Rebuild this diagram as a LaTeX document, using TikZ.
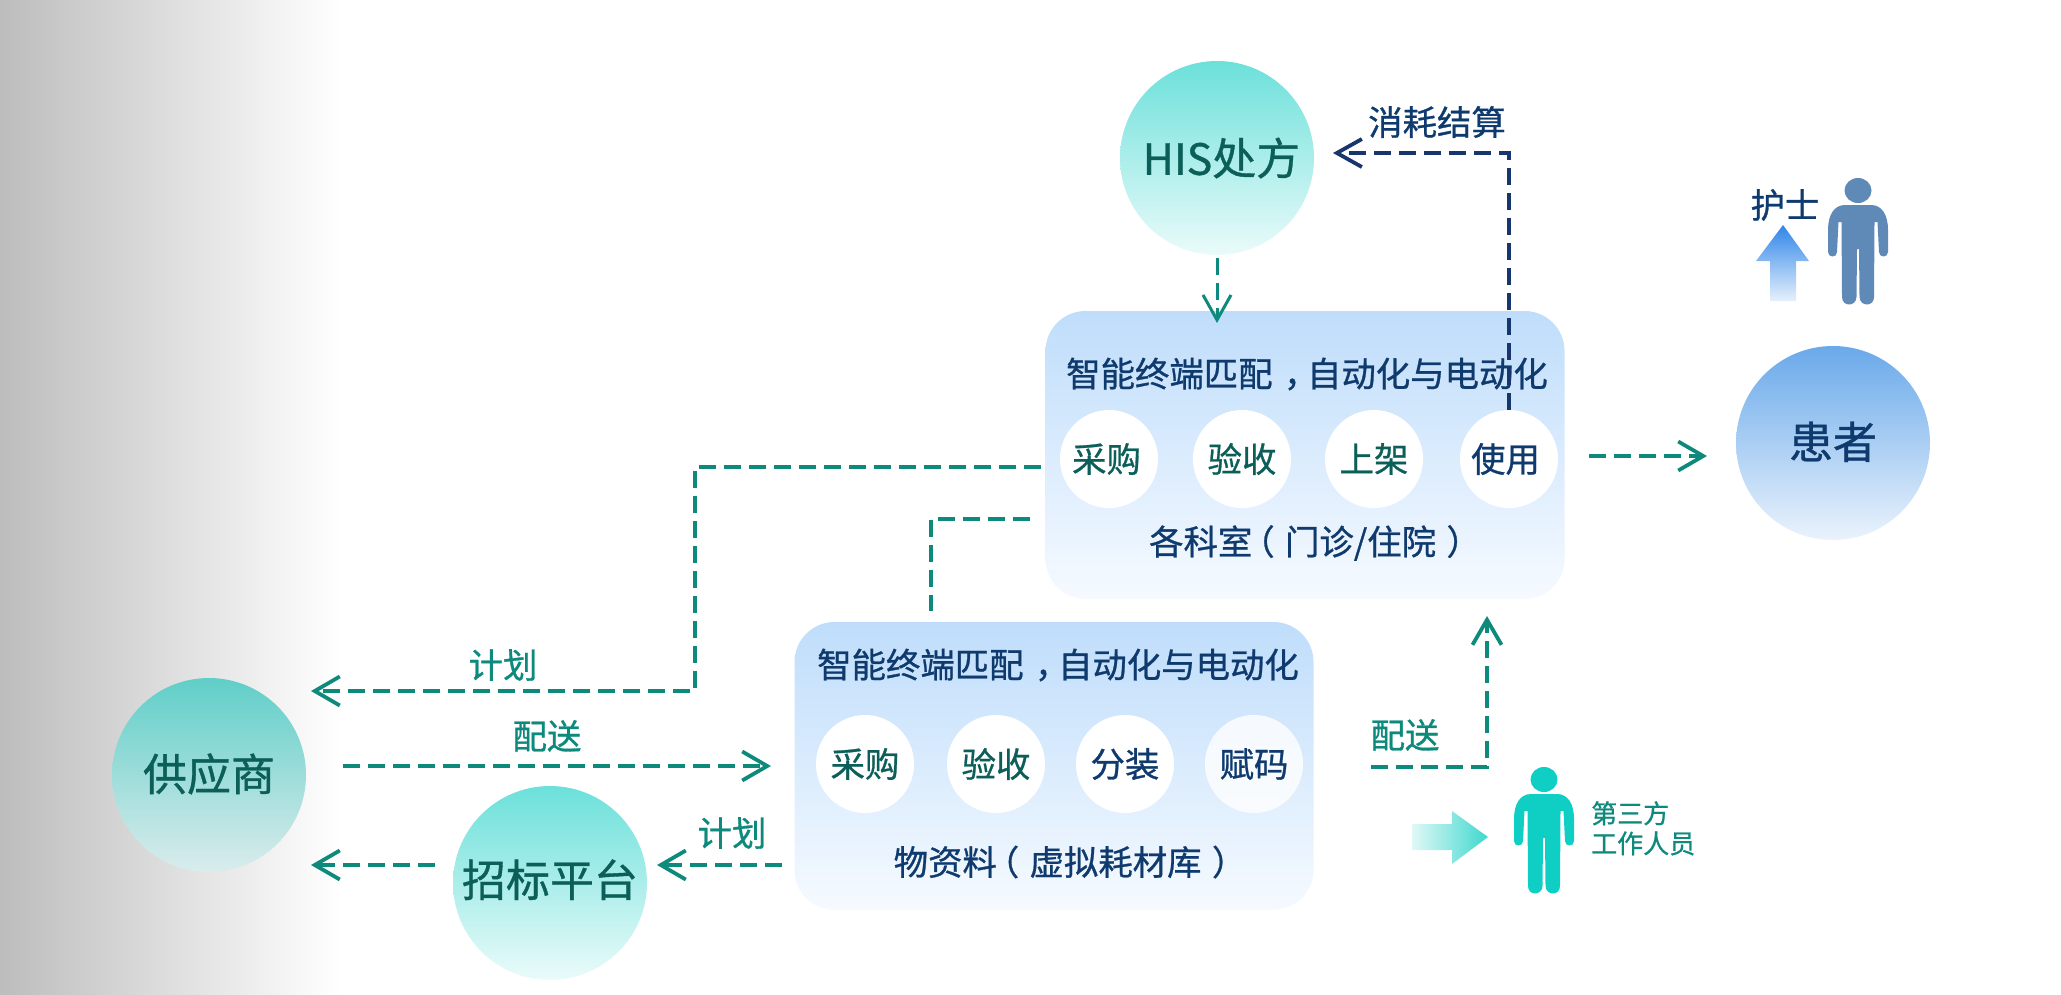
\documentclass[tikz,border=0pt]{standalone}
\usepackage{fontspec}
\setmainfont[FakeBold=0.8]{Noto Sans CJK SC}
\usetikzlibrary{arrows.meta,shapes.geometric}
\definecolor{tealline}{HTML}{0E8A7D}
\definecolor{navyline}{HTML}{17366E}
\definecolor{tealtext}{HTML}{0B5F58}
\definecolor{navytext}{HTML}{0F3A6E}
\definecolor{tealtop}{HTML}{6CE0DA}
\definecolor{tealbot}{HTML}{EAFBFA}
\definecolor{paneltop}{HTML}{BFDDFB}
\definecolor{panelbot}{HTML}{F6FAFF}
\newcommand{\fsBig}{\fontsize{44}{50}\selectfont}
\newcommand{\fsMid}{\fontsize{34.4}{40}\selectfont}
\newcommand{\fsSmall}{\fontsize{26}{30}\selectfont}
\newcommand{\ccomma}{\kern.33em，\kern-.33em}
\newcommand{\copen}{\kern-.35em（\kern.3em}
\newcommand{\cclose}{\kern.3em）}
\tikzset{
  x=1pt,y=-1pt,
  flow/.style={line width=4pt,dash pattern=on 17pt off 8pt,color=tealline,-{Straight Barb[length=25pt,width=29pt,line width=3.8pt]}},
  flowplain/.style={line width=4pt,dash pattern=on 17pt off 8pt,color=tealline},
  flowthin/.style={line width=3pt,dash pattern=on 17pt off 8pt,color=tealline,-{Straight Barb[length=25pt,width=28pt,line width=3pt]}},
  flownavy/.style={line width=3.6pt,dash pattern=on 17pt off 8pt,color=navyline,-{Straight Barb[length=25pt,width=28pt,line width=3.8pt]}},
  ball/.style={circle,minimum size=194pt,inner sep=0pt,draw=none,font=\fsBig},
  tealball/.style={ball,text=tealtext,top color=tealtop,bottom color=tealbot},
  panel/.style={rectangle,rounded corners=40pt,minimum width=519pt,minimum height=288pt,inner sep=0pt,draw=none,top color=paneltop,bottom color=panelbot},
  step circle/.style={circle,fill=white,minimum size=98pt,inner sep=0pt,font=\fsMid},
  heading/.style={font=\fsMid,text=navytext,inner sep=0pt},
  flowlabel/.style={font=\fsMid,text=tealline,inner sep=0pt},
  person/.pic={
    \path[pic actions] (0,12.5) ellipse [x radius=13.5pt,y radius=12.5pt];
    \path[pic actions] (-13,27) -- (13,27) .. controls (24,27) and (30,37) .. (30,52) -- (30,74)
      .. controls (30,80) and (21,80) .. (21,74) -- (19.5,44) -- (16.5,44) -- (16,119)
      .. controls (16,129) and (2,129) .. (1.5,119) -- (1,71) -- (-1,71) -- (-1.5,119)
      .. controls (-2,129) and (-16,129) .. (-16,119) -- (-16.5,44) -- (-19.5,44) -- (-21,74)
      .. controls (-21,80) and (-30,80) .. (-30,74) -- (-30,52)
      .. controls (-30,37) and (-24,27) .. (-13,27) -- cycle;
  }
}
\begin{document}
\begin{tikzpicture}
\useasboundingbox (0,0) rectangle (2061,994);
\shade[left color=black!26,right color=white,draw=none] (0,0) rectangle (340,994);

% circles
\node[tealball] (his) at (1217,158) {\kern9pt{\fontsize{43}{48}\selectfont HIS}处方};
\node[ball,text=navytext,top color={rgb,255:red,106;green,169;blue,234},bottom color={rgb,255:red,234;green,243;blue,252}] (patient) at (1833,443) {\raisebox{6pt}{患者}};
\node[ball,text=tealtext,top color={rgb,255:red,96;green,206;blue,200},bottom color={rgb,255:red,218;green,236;blue,236}] (supplier) at (209,775) {\raisebox{6pt}{供应商}};
\node[tealball] (bid) at (550,883) {\raisebox{10pt}{招标平台}};

% panels
\node[panel] (dept) at (1305,455) {};
\node[panel] (store) at (1054,766) {};

\node[heading] (depttitle) at (1307,374) {智能终端匹配\ccomma 自动化与电动化};
\node[heading] (deptname) at (1315,543) {各科室\copen 门诊/住院\cclose};
\node[heading] (storetitle) at (1058,665) {智能终端匹配\ccomma 自动化与电动化};
\node[heading] (storename) at (1070,862) {物资料\copen 虚拟耗材库\cclose};

\node[step circle,text=tealtext] (a1) at (1109,459) {采购\kern5pt};
\node[step circle,text=tealtext] (a2) at (1242,459) {验收};
\node[step circle,text=tealtext] (a3) at (1374,459) {上架};
\node[step circle,text=navytext] (a4) at (1509,459) {使用\kern7pt};
\node[step circle,text=tealtext] (b1) at (865,764) {采购};
\node[step circle,text=tealtext] (b2) at (996,764) {验收};
\node[step circle,text=navytext] (b3) at (1125,764) {分装};
\node[step circle,fill opacity=0.8,text opacity=1,text=navytext] (b4) at (1254,764) {赋码};

% free connector ends
\coordinate (p1s) at (1041,467);
\coordinate (p1m) at (695,467);
\coordinate (p1n) at (695,691);
\coordinate (p1e) at (311,691);
\coordinate (p2s) at (1030,519);
\coordinate (p2m) at (931,519);
\coordinate (p2e) at (931,611);
\coordinate (d1s) at (343,766);
\coordinate (d1e) at (771,766);
\coordinate (p3s) at (782,865);
\coordinate (p3e) at (657,865);
\coordinate (p4s) at (435,865);
\coordinate (p4e) at (311,865);
\coordinate (u1s) at (1589,456);
\coordinate (u1e) at (1707,456);
\coordinate (d2s) at (1371,767);
\coordinate (d2m) at (1487,767);
\coordinate (d2e) at (1487,616);
\coordinate (c1m) at (1509,153);
\coordinate (c1e) at (1333,153);
\coordinate (h1s) at (1217,258);
\coordinate (h1e) at (1217,323);

% connectors
\draw[flow] (p1s) -- (p1m) -- (p1n) -- (p1e);
\draw[flowplain] (p2s) -- (p2m) -- (p2e);
\draw[flow] (d1s) -- (d1e);
\draw[flow] (p3s) -- (p3e);
\draw[flow] (p4s) -- (p4e);
\draw[flow] (u1s) -- (u1e);
\draw[flow] (d2s) -- (d2m) -- (d2e);
\draw[flownavy] (a4.north) -- (c1m) -- (c1e);
\draw[flowthin] (h1s) -- (h1e);

% labels
\node[flowlabel] (l1) at (503,665) {计划};
\node[flowlabel] (l2) at (547,736) {配送};
\node[flowlabel] (l3) at (732,833) {计划};
\node[flowlabel] (l4) at (1405,735) {配送};
\node[heading] (l5) at (1437,122) {消耗结算};
\node[heading] (l6) at (1785,205) {护士};
\node[font=\fsSmall,text=tealline,inner sep=0pt,anchor=north west,align=left] (l7) at (1591,801) {第三方\\工作人员};

% people
\pic[fill={rgb,255:red,95;green,138;blue,184}] (nurse) at (1858,178) {person};
\pic[fill={rgb,255:red,15;green,207;blue,197}] (worker) at (1544,767) {person};

% block arrows
\shade[top color={rgb,255:red,47;green,134;blue,232},bottom color={rgb,255:red,230;green,240;blue,252},draw=none]
  (1783,225) -- (1809,261) -- (1796,261) -- (1796,301) -- (1770,301) -- (1770,261) -- (1756,261) -- cycle;
\shade[left color={rgb,255:red,224;green,248;blue,246},right color={rgb,255:red,63;green,216;blue,206},draw=none]
  (1412,824) -- (1452,824) -- (1452,811) -- (1488,837) -- (1452,864) -- (1452,850) -- (1412,850) -- cycle;
\end{tikzpicture}
\end{document}
